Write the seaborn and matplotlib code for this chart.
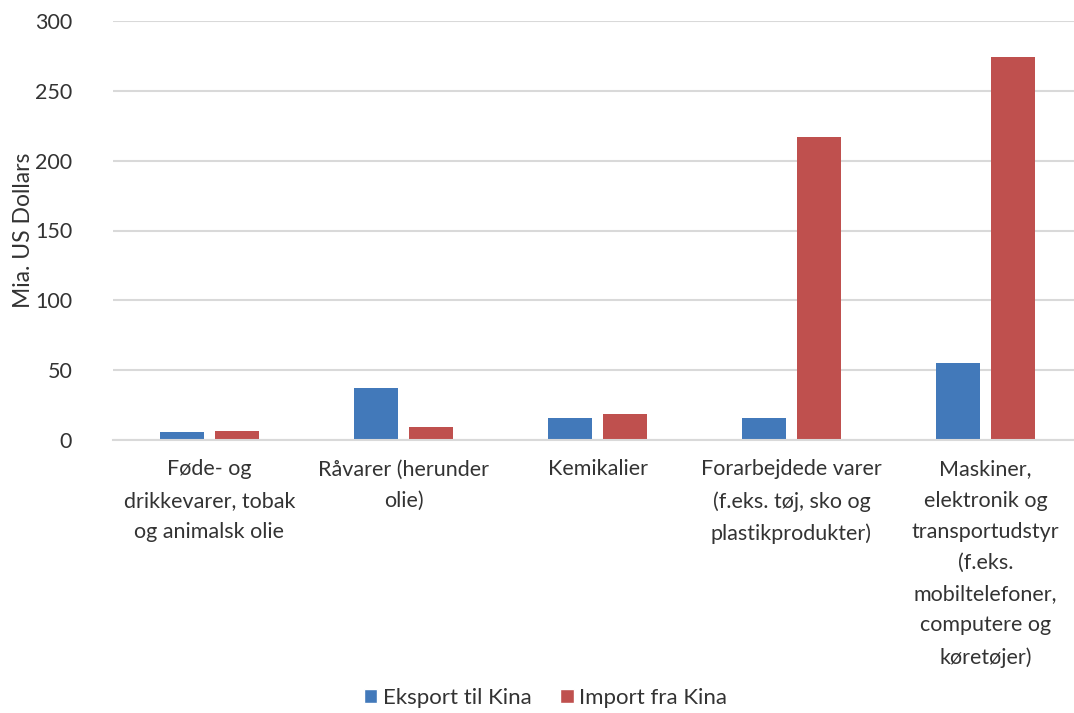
import matplotlib
matplotlib.use("Agg")
import matplotlib.pyplot as plt
import seaborn as sns
import pandas as pd
from matplotlib.patches import Patch

categories = [
    "Føde- og\ndrikkevarer, tobak\nog animalsk olie",
    "Råvarer (herunder\nolie)",
    "Kemikalier",
    "Forarbejdede varer\n(f.eks. tøj, sko og\nplastikprodukter)",
    "Maskiner,\nelektronik og\ntransportudstyr\n(f.eks.\nmobiltelefoner,\ncomputere og\nkøretøjer)",
]
eksport = [5.7, 37.2, 15.7, 15.7, 55.1]
importv = [6.4, 9.3, 18.6, 217.0, 274.2]
series = ["Eksport til Kina", "Import fra Kina"]
colors = ["#4279BA", "#BF504E"]
yticks = [0, 50, 100, 150, 200, 250, 300]

sns.set_theme(style="white")
plt.rcParams['font.family'] = ['Lato', 'DejaVu Sans']

df = pd.DataFrame({
    "cat": categories * 2,
    "val": eksport + importv,
    "serie": [series[0]] * 5 + [series[1]] * 5,
})

fig = plt.figure(figsize=(10.74, 7.13), dpi=100)
W, H = 1074, 713
ax = fig.add_axes([112.5 / W, (H - 440) / H, 970 / W, 419 / H])

sns.barplot(data=df, x="cat", y="val", hue="serie", palette=colors,
            width=0.567, gap=0.2, ax=ax, legend=False, saturation=1,
            edgecolor="none")

txt = "#333333"
fs = 15.5
ax.set_ylim(0, 300)
ax.set_xlim(-0.5, 4.5)
ax.set_yticks(yticks)
ax.set_yticklabels([str(v) for v in yticks], fontsize=fs, color=txt)
ax.grid(axis="y", color="#D9D9D9", linewidth=1.5)
ax.set_axisbelow(True)
for s in ["top", "right", "left"]:
    ax.spines[s].set_visible(False)
ax.spines["bottom"].set_color("#D9D9D9")
ax.spines["bottom"].set_linewidth(1.5)
ax.tick_params(axis="both", length=0)
ax.tick_params(axis="y", pad=29)
ax.tick_params(axis="x", pad=14)
ax.set_xticks(range(5))
ax.set_xticklabels(categories, fontsize=fs, color=txt, linespacing=1.7)
ax.set_xlabel("")
ax.set_ylabel("Mia. US Dollars", fontsize=16.5, color=txt, labelpad=1)

handles = [Patch(facecolor=c, label=s) for c, s in zip(colors, series)]
fig.legend(handles=handles, loc="center", bbox_to_anchor=(0.508, 1 - 698 / H),
           ncol=2, frameon=False, fontsize=16, handlelength=0.6, handleheight=0.6,
           handletextpad=0.25, columnspacing=1.3, labelcolor=txt)

fig.savefig("out.png", dpi=100)
